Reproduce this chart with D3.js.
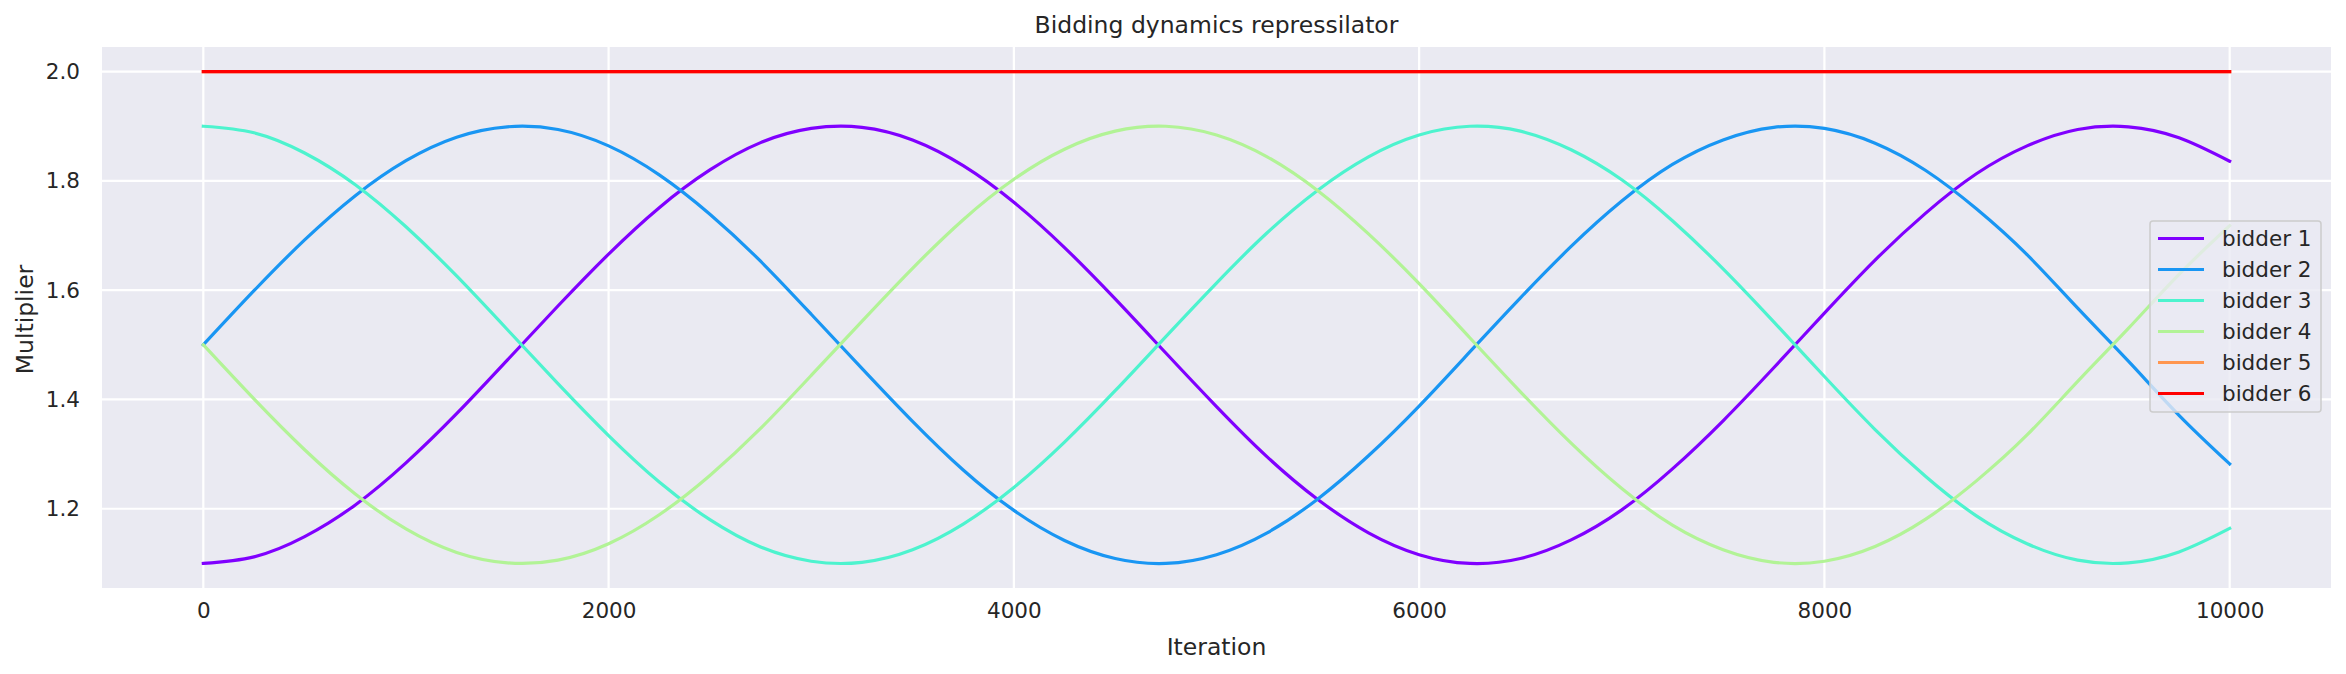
<!DOCTYPE html>
<html>
<head>
<meta charset="utf-8">
<script src="https://cdn.jsdelivr.net/npm/d3@7"></script>
<style>
  body { margin: 0; background: #fff; }
  text { font-family: "DejaVu Sans", sans-serif; fill: #262626; }
</style>
</head>
<body>
<div id="chart"></div>
<script>
// iteration samples (every 250 iterations)
const iterations = [0,250,500,750,1000,1250,1500,1750,2000,2250,2500,2750,3000,3250,3500,3750,4000,4250,4500,4750,5000,
  5250,5500,5750,6000,6250,6500,6750,7000,7250,7500,7750,8000,8250,8500,8750,9000,9250,9500,9750,10000];

// multiplier for each bidder
const bidder1 = [1.100,1.112,1.149,1.207,1.284,1.374,1.472,1.571,1.666,1.751,1.820,1.870,1.896,1.898,1.875,1.828,1.761,1.678,1.584,1.485,1.387,
  1.295,1.217,1.156,1.116,1.100,1.109,1.143,1.198,1.273,1.361,1.458,1.558,1.655,1.741,1.813,1.864,1.894,1.899,1.879,1.836];
const bidder2 = [1.500,1.599,1.692,1.773,1.837,1.880,1.899,1.894,1.864,1.811,1.739,1.653,1.556,1.457,1.360,1.271,1.197,1.142,1.109,1.100,1.116,
  1.156,1.218,1.297,1.388,1.487,1.586,1.680,1.763,1.830,1.875,1.898,1.896,1.869,1.819,1.749,1.665,1.567,1.470,1.371,1.282];
const bidder3 = [1.900,1.888,1.851,1.793,1.716,1.626,1.528,1.429,1.334,1.249,1.180,1.130,1.104,1.102,1.125,1.172,1.239,1.322,1.416,1.515,1.613,
  1.705,1.783,1.844,1.884,1.900,1.891,1.857,1.802,1.727,1.639,1.542,1.442,1.345,1.259,1.187,1.136,1.106,1.101,1.121,1.164];
const bidder4 = [1.500,1.401,1.308,1.227,1.163,1.120,1.101,1.106,1.136,1.189,1.261,1.347,1.444,1.543,1.640,1.729,1.803,1.858,1.891,1.900,1.884,
  1.844,1.782,1.703,1.612,1.513,1.414,1.320,1.237,1.170,1.125,1.102,1.104,1.131,1.181,1.251,1.335,1.433,1.530,1.629,1.718];
const bidder5 = [2,2,2,2,2,2,2,2,2,2,2,2,2,2,2,2,2,2,2,2,2,2,2,2,2,2,2,2,2,2,2,2,2,2,2,2,2,2,2,2,2];
const bidder6 = [2,2,2,2,2,2,2,2,2,2,2,2,2,2,2,2,2,2,2,2,2,2,2,2,2,2,2,2,2,2,2,2,2,2,2,2,2,2,2,2,2];

const bidderNames = ["bidder 1","bidder 2","bidder 3","bidder 4","bidder 5","bidder 6"];
const bidderColors = ["#8000ff","#1996f3","#4df3ce","#b2f396","#ff964f","#ff0000"];
const xTicks = [0,2000,4000,6000,8000,10000];
const yTicks = [1.2,1.4,1.6,1.8,2.0];

const series = [bidder1,bidder2,bidder3,bidder4,bidder5,bidder6];

const width = 2346, height = 674;
const plot = {left: 102, right: 2331, top: 47, bottom: 588};

const svg = d3.select("#chart").append("svg")
    .attr("width", width)
    .attr("height", height);

const x = d3.scaleLinear().domain([-500, 10500]).range([plot.left, plot.right]);
const y = d3.scaleLinear().domain([1.055, 2.045]).range([plot.bottom, plot.top]);

// grey axes background
svg.append("rect")
    .attr("x", plot.left).attr("y", plot.top)
    .attr("width", plot.right - plot.left)
    .attr("height", plot.bottom - plot.top)
    .attr("fill", "#eaeaf2");

// white grid lines
svg.append("g").selectAll("line").data(xTicks).enter().append("line")
    .attr("x1", d => x(d)).attr("x2", d => x(d))
    .attr("y1", plot.top).attr("y2", plot.bottom)
    .attr("stroke", "#fff").attr("stroke-width", 2.2);
svg.append("g").selectAll("line").data(yTicks).enter().append("line")
    .attr("x1", plot.left).attr("x2", plot.right)
    .attr("y1", d => y(d)).attr("y2", d => y(d))
    .attr("stroke", "#fff").attr("stroke-width", 2.2);

// axes (no tick marks, seaborn darkgrid style)
const xAxis = svg.append("g")
    .attr("transform", `translate(0,${plot.bottom})`)
    .call(d3.axisBottom(x).tickValues(xTicks).tickSize(0).tickPadding(15).tickFormat(d3.format("d")));
const yAxis = svg.append("g")
    .attr("transform", `translate(${plot.left},0)`)
    .call(d3.axisLeft(y).tickValues(yTicks).tickSize(0).tickPadding(22).tickFormat(d3.format(".1f")));
[xAxis, yAxis].forEach(g => {
    g.select(".domain").remove();
    g.selectAll("text").attr("font-size", 21.5).attr("font-family", "DejaVu Sans").attr("fill", "#262626");
});

// lines
const line = d3.line()
    .x((d, i) => x(iterations[i]))
    .y(d => y(d))
    .curve(d3.curveNatural);

svg.append("g").selectAll("path").data(series).enter().append("path")
    .attr("d", d => line(d))
    .attr("fill", "none")
    .attr("stroke", (d, i) => bidderColors[i])
    .attr("stroke-width", 3.2)
    .attr("stroke-linecap", "square");

// title and axis labels
svg.append("text")
    .attr("x", (plot.left + plot.right) / 2).attr("y", 33)
    .attr("text-anchor", "middle").attr("font-size", 23.5)
    .text("Bidding dynamics repressilator");
svg.append("text")
    .attr("x", (plot.left + plot.right) / 2).attr("y", 655)
    .attr("text-anchor", "middle").attr("font-size", 23.5)
    .text("Iteration");
svg.append("text")
    .attr("transform", `translate(33,${(plot.top + plot.bottom) / 2 + 2}) rotate(-90)`)
    .attr("text-anchor", "middle").attr("font-size", 23.5)
    .text("Multiplier");

// legend
const legend = svg.append("g").attr("transform", "translate(2150,221)");
legend.append("rect")
    .attr("width", 171).attr("height", 191)
    .attr("rx", 3)
    .attr("fill", "#eaeaf2").attr("fill-opacity", 0.8)
    .attr("stroke", "#cccccc").attr("stroke-width", 1.5);
const rows = legend.selectAll(".row").data(bidderNames).enter().append("g")
    .attr("class", "row")
    .attr("transform", (d, i) => `translate(0,${17.5 + i * 31})`);
rows.append("line")
    .attr("x1", 8).attr("x2", 54)
    .attr("stroke", (d, i) => bidderColors[i])
    .attr("stroke-width", 3.2);
rows.append("text")
    .attr("x", 72).attr("dy", "0.35em")
    .attr("font-size", 21.5)
    .text(d => d);
</script>
</body>
</html>
